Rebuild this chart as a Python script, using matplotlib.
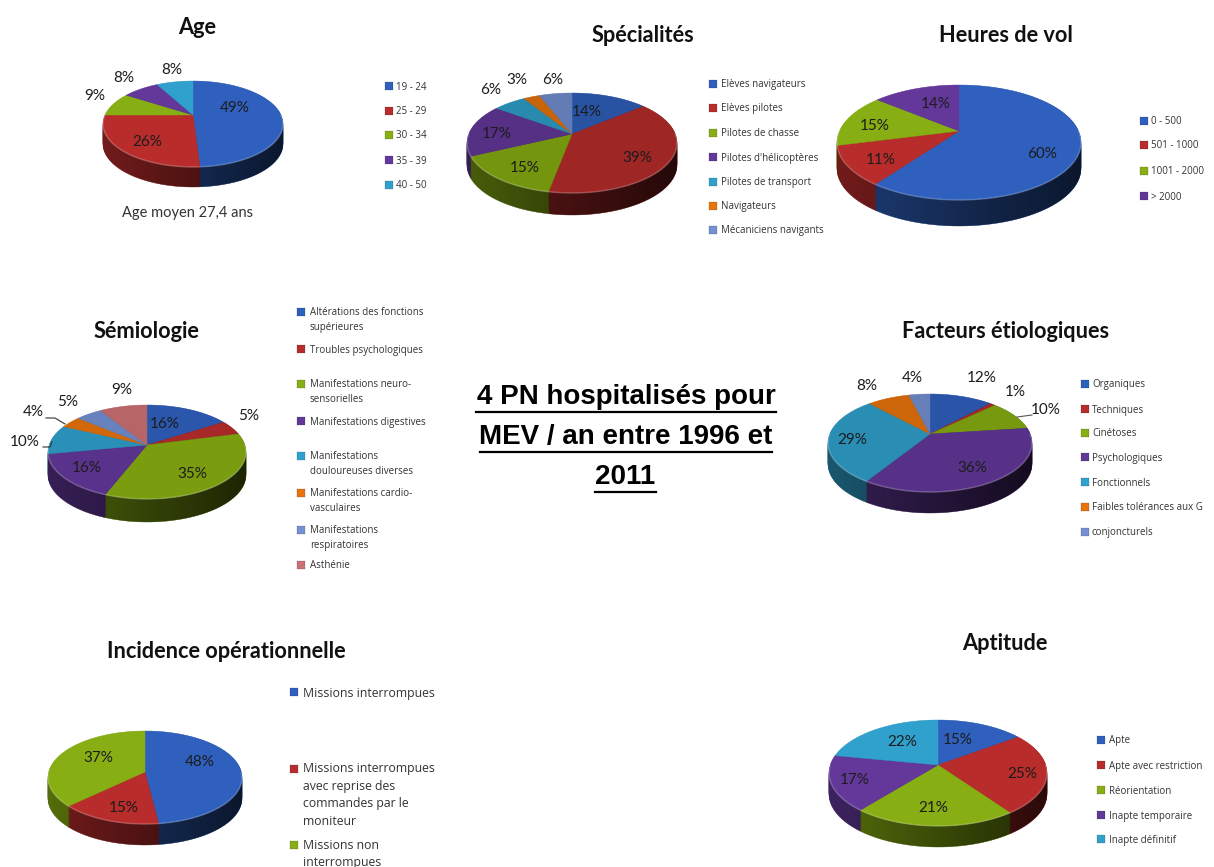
import numpy as np
import matplotlib
matplotlib.use("Agg")
import matplotlib.pyplot as plt
from matplotlib.colors import to_rgb

W, H = 1214, 867

# values
age_vals = [49, 26, 9, 8, 8]
age_names = ["19 - 24", "25 - 29", "30 - 34", "35 - 39", "40 - 50"]
spec_vals = [14, 39, 15, 17, 6, 3, 6]
spec_names = ["Elèves navigateurs", "Elèves pilotes", "Pilotes de chasse", "Pilotes d'hélicoptères",
              "Pilotes de transport", "Navigateurs", "Mécaniciens navigants"]
vol_vals = [60, 11, 15, 14]
vol_names = ["0 - 500", "501 - 1000", "1001 - 2000", "> 2000"]
semio_vals = [16, 5, 35, 16, 10, 4, 5, 9]
semio_names = ["Altérations des fonctions\nsupérieures", "Troubles psychologiques",
               "Manifestations neuro-\nsensorielles", "Manifestations digestives",
               "Manifestations\ndouloureuses diverses", "Manifestations cardio-\nvasculaires",
               "Manifestations\nrespiratoires", "Asthénie"]
fact_vals = [12, 1, 10, 36, 29, 8, 4]
fact_names = ["Organiques", "Techniques", "Cinétoses", "Psychologiques", "Fonctionnels",
              "Faibles tolérances aux G", "conjoncturels"]
inc_vals = [48, 15, 37]
inc_names = ["Missions interrompues",
             "Missions interrompues\navec reprise des\ncommandes par le\nmoniteur",
             "Missions non\ninterrompues"]
apt_vals = [15, 25, 21, 17, 22]
apt_names = ["Apte", "Apte avec restriction", "Réorientation", "Inapte temporaire", "Inapte définitif"]

colors = ["#2F60BE", "#B82C2B", "#87AE12", "#63389A", "#30A0CC", "#E8740A", "#7490D2", "#CC7074"]

# layout, in pixels of the picture
# apex = where the wedges meet, top/bot = edges of the top face, hw = half width, d = thickness
charts = [
    dict(title="Age", tx=197, ty=27, vals=age_vals, names=age_names, apex=(193, 115), top=81, bot=167, hw=90, d=20, shade=1.0,
         lab=[(235, 106), (147, 140), (95, 95), (124, 76), (172, 68)],
         mx=389, tx2=396, ly=[86, 111, 135, 160, 185], fs=7),
    dict(title="Spécialités", tx=643, ty=36, vals=spec_vals, names=spec_names, apex=(572, 134), top=93, bot=193, hw=105, d=22, shade=0.86,
         lab=[(587, 110), (637, 157), (525, 167), (497, 132), (491, 89), (517, 78), (553, 78)],
         mx=713, tx2=721, ly=[84, 108, 133, 157, 182, 206, 230], fs=7),
    dict(title="Heures de vol", tx=1006, ty=36, vals=vol_vals, names=vol_names, apex=(959, 131), top=85, bot=200, hw=122, d=26, shade=1.0,
         lab=[(1042, 153), (881, 158), (875, 124), (936, 102)],
         mx=1144, tx2=1151, ly=[121, 145, 171, 196], fs=7),
    dict(title="Sémiologie", tx=146, ty=331, vals=semio_vals, names=semio_names, apex=(147, 445), top=405, bot=499, hw=99, d=23, shade=0.9,
         lab=[(165, 423), (249, 414), (192, 473), (87, 467), (25, 440), (33, 411), (68, 400), (122, 388)],
         mx=301, tx2=310, ly=[319, 349, 391, 421, 463, 500, 537, 565], fs=7),
    dict(title="Facteurs étiologiques", tx=1006, ty=331, vals=fact_vals, names=fact_names, apex=(930, 434), top=394, bot=492, hw=102, d=21, shade=0.88,
         lab=[(982, 377), (1015, 390), (1046, 409), (972, 466), (852, 439), (867, 385), (912, 377)],
         mx=1085, tx2=1092, ly=[384, 409, 433, 457, 482, 507, 532], fs=7),
    dict(title="Incidence opérationnelle", tx=226, ty=651, vals=inc_vals, names=inc_names, apex=(145, 772), top=731, bot=824, hw=97, d=21, shade=1.0,
         lab=[(200, 761), (124, 806), (98, 756)],
         mx=294, tx2=303, ly=[692, 794, 853], fs=8.8),
    dict(title="Aptitude", tx=1005, ty=644, vals=apt_vals, names=apt_names, apex=(938, 765), top=720, bot=826, hw=109, d=21, shade=1.0,
         lab=[(958, 739), (1022, 773), (933, 807), (855, 778), (902, 741)],
         mx=1101, tx2=1109, ly=[740, 765, 790, 815, 839], fs=7),
]

fig = plt.figure(figsize=(W / 100, H / 100), dpi=100, facecolor="white")
ax = fig.add_axes([0, 0, 1, 1])


def project(ch, theta, dy=0):
    # circle seen in perspective: the far side is smaller, so the apex sits above the middle
    ax0, ay0 = ch["apex"]
    t = ay0 - ch["top"]
    b = ch["bot"] - ay0
    k = (b - t) / (b + t)
    rx = ch["hw"] * np.sqrt(1 - k * k)
    ry = t * (1 + k)
    u, v = np.cos(theta), np.sin(theta)
    s = 1 / (1 + k * v)
    return ax0 + rx * u * s, ay0 - ry * v * s + dy


def draw_pie(ch):
    ax0, ay0 = ch["apex"]
    d = ch["d"]
    vals = np.array(ch["vals"], dtype=float)
    stops = np.pi / 2 - 2 * np.pi * np.r_[0, np.cumsum(vals)] / vals.sum()
    cols = [tuple(v * ch["shade"] for v in to_rgb(c)) for c in colors[:len(vals)]]
    dark = [tuple(v * 0.62 for v in c) for c in cols]
    polys = []
    for a0, a1 in zip(stops[:-1], stops[1:]):
        polys.append(np.linspace(a0, a1, 90))
    # the side of the disc: stack of darker slices going down
    for k in range(d, 0, -1):
        for th, c in zip(polys, dark):
            x, y = project(ch, th, k)
            ax.fill(np.r_[ax0, x], np.r_[ay0 + k, y], color=c, lw=0.3, zorder=1)
    # side gets darker toward the right
    t = ay0 - ch["top"]
    b = ch["bot"] - ay0
    e = np.arcsin((b - t) / (b + t))
    x1, y1 = project(ch, np.linspace(-e, np.pi + e, 150))
    x2, y2 = project(ch, np.linspace(np.pi + e, 2 * np.pi - e, 150), d)
    outline = plt.Polygon(np.c_[np.r_[x1, x2], np.r_[y1, y2]], closed=True, fc="none", ec="none")
    ax.add_patch(outline)
    grad = np.zeros((2, 256, 4))
    grad[:, :, 3] = np.linspace(0.0, 0.62, 256)
    im = ax.imshow(grad, extent=(x1.min(), x1.max(), ch["bot"] + d, ch["top"]), aspect="auto", zorder=1.5)
    im.set_clip_path(outline)
    # top face
    for th, c in zip(polys, cols):
        x, y = project(ch, th)
        ax.fill(np.r_[ax0, x], np.r_[ay0, y], color=c, lw=0.3, zorder=2)
    # pale rim along the front edge
    x, y = project(ch, np.linspace(np.pi, 2 * np.pi, 150))
    ax.plot(x, y, color="white", alpha=0.22, lw=1.1, zorder=2.5)


for ch in charts:
    draw_pie(ch)

ax.set_xlim(0, W)
ax.set_ylim(H, 0)
ax.set_aspect("auto")
ax.axis("off")

for ch in charts:
    ax.text(ch["tx"], ch["ty"], ch["title"], ha="center", va="center", fontsize=15.7, fontweight="bold",
            family="Lato", color="#111111", zorder=5)
    for (x, y), v in zip(ch["lab"], ch["vals"]):
        ax.text(x, y + 1.5, f"{v}%", ha="center", va="center", fontsize=11, family="Lato", color="#1c1c1c", zorder=5)
    for i, (name, y) in enumerate(zip(ch["names"], ch["ly"])):
        n_lines = name.count("\n") + 1
        line_h = 16.5 if ch["fs"] > 8 else 15
        first = y - (n_lines - 1) * line_h / 2
        ax.plot([ch["mx"]], [first], marker="s", ms=6, color=colors[i], mec="#22222266", mew=0.3, zorder=5)
        ax.text(ch["tx2"], y + 1, name, ha="left", va="center", fontsize=ch["fs"], family="Open Sans",
                color="#333333", linespacing=1.45, zorder=5)

ax.text(187, 213, "Age moyen 27,4 ans", ha="center", va="center", fontsize=10.5, family="Lato", color="#333333")

# leader lines
ax.plot([46, 55, 65], [418, 418, 424], color="#333333", lw=0.8, zorder=5)
ax.plot([43, 50, 52], [447, 447, 442], color="#333333", lw=0.8, zorder=5)
ax.plot([1017, 1032], [417, 415], color="#555555", lw=0.8, zorder=5)

# centre title, underlined by hand
centre = [("4 PN hospitalisés pour", 397, 476, 776), ("MEV / an entre 1996 et", 437, 480, 772), ("2011", 477, 595, 656)]
for line, y, x0, x1 in centre:
    ax.text((x0 + x1) / 2, y, line, ha="center", va="center", fontsize=20, fontweight="bold",
            family="Liberation Sans", color="black", zorder=5)
    ax.plot([x0, x1], [y + 15, y + 15], color="black", lw=1.6, zorder=5)

ax.set_xlim(0, W)
ax.set_ylim(H, 0)
fig.savefig("out.png", dpi=100)
